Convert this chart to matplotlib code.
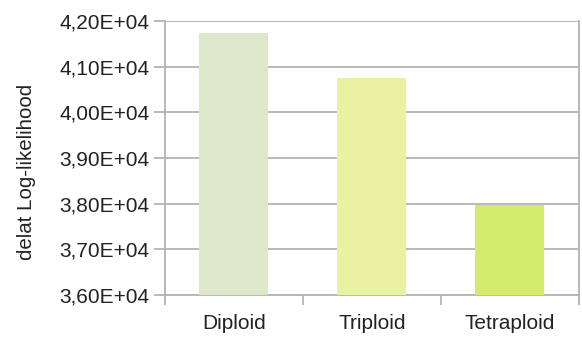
import matplotlib
matplotlib.use("Agg")
import matplotlib.pyplot as plt
from matplotlib.ticker import FuncFormatter, FixedLocator

categories = ["Diploid", "Triploid", "Tetraploid"]
values = [41740, 40750, 37960]
colors = ["#dde8cb", "#e8f2a0", "#d4ea6b"]
y_ticks = [36000, 37000, 38000, 39000, 40000, 41000, 42000]

plt.rcParams["font.family"] = ["Liberation Sans", "DejaVu Sans"]

fig = plt.figure(figsize=(5.82, 3.41), dpi=100)
ax = fig.add_axes([0.2835, 0.135, 0.7113, 0.8035])

x = list(range(len(categories)))
ax.bar(x, values, width=0.5, color=colors, zorder=3)

ax.set_xlim(-0.5, len(categories) - 0.5)
ax.set_ylim(y_ticks[0], y_ticks[-1])
ax.set_yticks(y_ticks)
ax.yaxis.set_major_formatter(FuncFormatter(lambda v, p: ("%.2E" % v).replace(".", ",")))

# category labels centred, ticks on category boundaries
ax.set_xticks(x)
ax.set_xticklabels(categories)
ax.tick_params(axis="x", length=0, labelsize=15, colors="#222222", pad=14)
ax.xaxis.set_minor_locator(FixedLocator([i - 0.5 for i in range(len(categories) + 1)]))
ax.tick_params(axis="x", which="minor", length=7, color="#b3b3b3", width=1.3)
ax.tick_params(axis="y", length=8, color="#b3b3b3", width=1.3, labelsize=15, colors="#222222", pad=3)
for t in ax.get_yticklines():
    t.set_color("#b3b3b3")

ax.grid(axis="y", color="#b3b3b3", linewidth=1.3, zorder=0)
for s in ["left", "bottom", "right"]:
    ax.spines[s].set_color("#b3b3b3")
    ax.spines[s].set_linewidth(1.3)
ax.spines["top"].set_visible(False)

# y label is centred on the figure, not the axes
fig.text(0.045, 0.495, "delat Log-likelihood", rotation=90, fontsize=14.8,
         color="#222222", ha="center", va="center")

fig.savefig("out.png", dpi=100)
